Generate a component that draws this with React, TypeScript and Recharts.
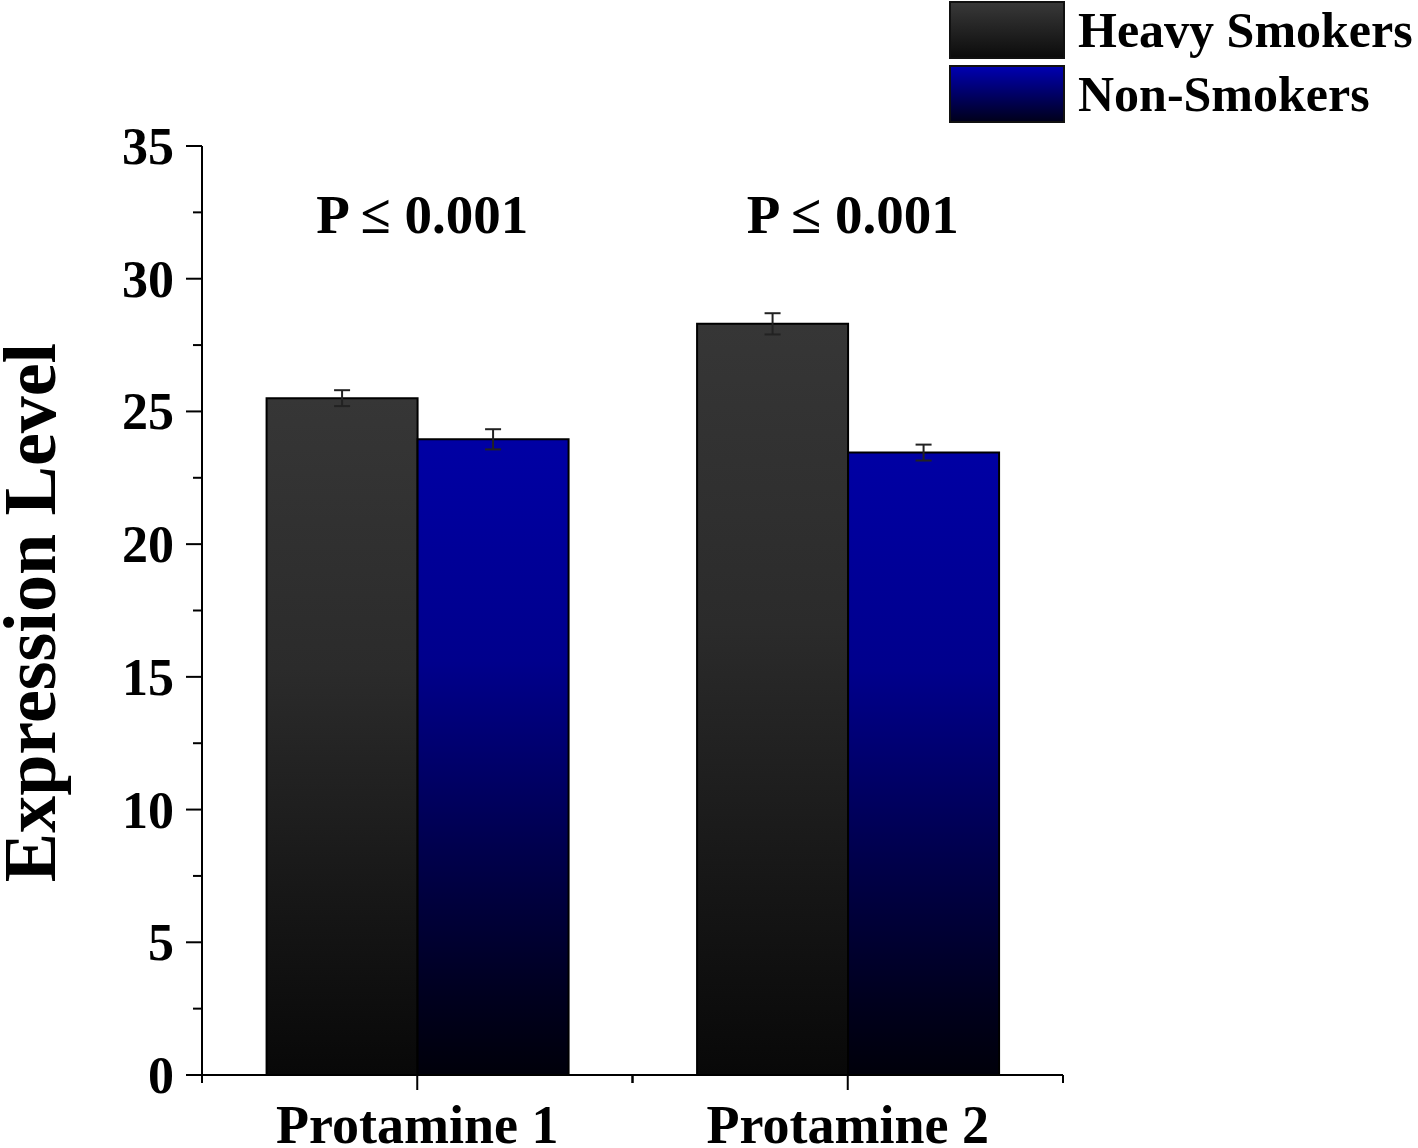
import React from 'react';
import { BarChart, Bar, XAxis, YAxis, ErrorBar, ReferenceDot, Legend } from 'recharts';

const categories = ['Protamine 1', 'Protamine 2'];
const seriesNames = ['Heavy Smokers', 'Non-Smokers'];
const heavySmokers = [25.5, 28.3];
const heavySmokersErr = [0.3, 0.4];
const nonSmokers = [23.95, 23.45];
const nonSmokersErr = [0.38, 0.3];
const yTicks = [0, 2.5, 5, 7.5, 10, 12.5, 15, 17.5, 20, 22.5, 25, 27.5, 30, 32.5, 35];
const yMajorTicks = [0, 5, 10, 15, 20, 25, 30, 35];
const pLabels = ['P \u2264 0.001', 'P \u2264 0.001'];
const pLabelLevel = [32.4, 32.4];

const FONT = '"Liberation Serif", "Times New Roman", serif';

const heavyStops = [
  { o: 0, c: '#363636' },
  { o: 0.4, c: '#2b2b2b' },
  { o: 0.75, c: '#161616' },
  { o: 1, c: '#080808' },
];
const nonStops = [
  { o: 0, c: '#0000a4' },
  { o: 0.35, c: '#00008c' },
  { o: 0.65, c: '#00004c' },
  { o: 0.88, c: '#00001e' },
  { o: 1, c: '#00000a' },
];
const legendGradients = [
  'linear-gradient(to bottom, #383838, #0c0c0c)',
  'linear-gradient(to bottom, #0000b0, #00001c)',
];

const data = categories.map((c, i) => ({
  category: c,
  heavy: heavySmokers[i],
  heavyErr: heavySmokersErr[i],
  non: nonSmokers[i],
  nonErr: nonSmokersErr[i],
}));

const YTick = (props: any) => {
  const { x, y, payload } = props;
  const v = payload.value;
  const major = yMajorTicks.includes(v);
  return (
    <g>
      <line x1={x - (major ? 16 : 9)} x2={x} y1={y} y2={y} stroke="#000" strokeWidth={2} />
      {major && (
        <text
          x={x - 28}
          y={y}
          dy={18}
          textAnchor="end"
          fontFamily={FONT}
          fontWeight="bold"
          fontSize={52}
          fill="#000"
        >
          {v}
        </text>
      )}
    </g>
  );
};

const XTick = (props: any) => {
  const { x, y, payload, width, visibleTicksCount } = props;
  let half = 0;
  if (typeof width === 'number' && visibleTicksCount) half = width / visibleTicksCount / 2;
  else if (payload && typeof payload.offset === 'number') half = payload.offset;
  return (
    <g>
      <line x1={x} x2={x} y1={y} y2={y + 15} stroke="#000" strokeWidth={2} />
      <line x1={x - half} x2={x - half} y1={y} y2={y + 8} stroke="#000" strokeWidth={2} />
      <line x1={x + half} x2={x + half} y1={y} y2={y + 8} stroke="#000" strokeWidth={2} />
      <text
        x={x}
        y={y + 68}
        textAnchor="middle"
        fontFamily={FONT}
        fontWeight="bold"
        fontSize={54}
        fill="#000"
      >
        {payload.value}
      </text>
    </g>
  );
};

const LegendContent = (props: any) => {
  const payload = props.payload || [];
  return (
    <div style={{ fontFamily: FONT, fontWeight: 'bold', fontSize: 50, color: '#000' }}>
      {payload.map((p: any, i: number) => (
        <div key={i} style={{ display: 'flex', alignItems: 'center', height: 64 }}>
          <div
            style={{
              width: 112,
              height: 54,
              border: '2px solid #111',
              background: legendGradients[i],
              boxSizing: 'content-box',
            }}
          />
          <span style={{ marginLeft: 13, lineHeight: '56px', whiteSpace: 'nowrap' }}>{p.value}</span>
        </div>
      ))}
    </div>
  );
};

const YLabel = (p: any) => {
  const vb = p.viewBox || { x: 0, y: 146, width: 202, height: 929 };
  const cx = vb.x + 55;
  const cy = vb.y + vb.height / 2 + 2;
  return (
    <text
      x={cx}
      y={cy}
      transform={`rotate(-90 ${cx} ${cy})`}
      textAnchor="middle"
      fontFamily={FONT}
      fontWeight="bold"
      fontSize={74}
      fill="#000"
    >
      Expression Level
    </text>
  );
};

const PLabel = (text: string) => (p: any) => {
  const vb = p.viewBox || { x: 0, y: 0 };
  return (
    <text
      x={vb.x + 5}
      y={vb.y}
      dy={18}
      textAnchor="middle"
      fontFamily={FONT}
      fontWeight="bold"
      fontSize={55}
      fill="#000"
    >
      {text}
    </text>
  );
};

export default function App() {
  return (
    <div style={{ position: 'absolute', left: 0, top: 0, background: '#fff' }}>
      <BarChart
        width={1418}
        height={1148}
        data={data}
        margin={{ top: 146, right: 355, bottom: 0, left: 0 }}
        barGap={0}
        barCategoryGap="15%"
      >
        <defs>
          <linearGradient id="gradHeavy" x1="0" y1="0" x2="0" y2="1">
            {heavyStops.map((s, i) => (
              <stop key={i} offset={s.o} stopColor={s.c} />
            ))}
          </linearGradient>
          <linearGradient id="gradNon" x1="0" y1="0" x2="0" y2="1">
            {nonStops.map((s, i) => (
              <stop key={i} offset={s.o} stopColor={s.c} />
            ))}
          </linearGradient>
        </defs>
        <XAxis
          dataKey="category"
          height={73}
          tickSize={0}
          tickMargin={0}
          tickLine={false}
          axisLine={{ stroke: '#000', strokeWidth: 2 }}
          tick={<XTick />}
          interval={0}
        />
        <YAxis
          width={202}
          domain={[0, 35]}
          ticks={yTicks}
          interval={0}
          tickSize={0}
          tickMargin={0}
          tickLine={false}
          axisLine={{ stroke: '#000', strokeWidth: 2 }}
          tick={<YTick />}
          label={{ content: YLabel }}
          allowDataOverflow
        />
        <Legend
          layout="vertical"
          align="center"
          verticalAlign="middle"
          content={<LegendContent />}
          wrapperStyle={{ top: -2, left: 949, width: 469, height: 128 }}
        />
        <Bar
          dataKey="heavy"
          name={seriesNames[0]}
          fill="url(#gradHeavy)"
          stroke="#000"
          strokeWidth={2}
          isAnimationActive={false}
        >
          <ErrorBar dataKey="heavyErr" width={8} stroke="#222" strokeWidth={2} isAnimationActive={false} />
        </Bar>
        <Bar
          dataKey="non"
          name={seriesNames[1]}
          fill="url(#gradNon)"
          stroke="#000"
          strokeWidth={2}
          isAnimationActive={false}
        >
          <ErrorBar dataKey="nonErr" width={8} stroke="#222" strokeWidth={2} isAnimationActive={false} />
        </Bar>
        {categories.map((c, i) => (
          <ReferenceDot
            key={c}
            x={c}
            y={pLabelLevel[i]}
            r={0}
            fill="none"
            stroke="none"
            ifOverflow="visible"
            label={{ content: PLabel(pLabels[i]) }}
          />
        ))}
      </BarChart>
    </div>
  );
}
